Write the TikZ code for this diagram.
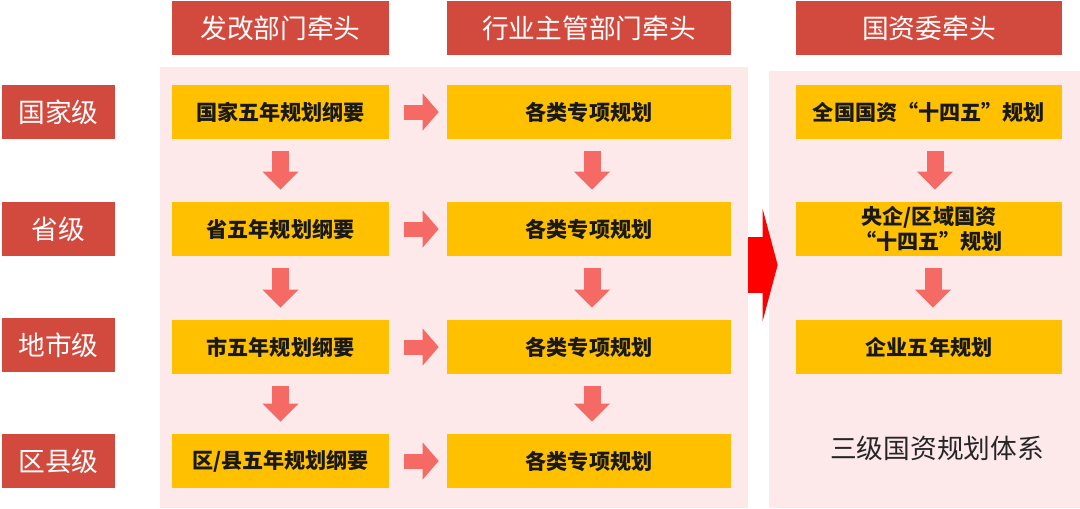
\documentclass[tikz,border=0pt]{standalone}
\usepackage{fontspec}
\newfontfamily\cjk{Noto Sans CJK SC}
\usetikzlibrary{arrows.meta}
\definecolor{headred}{RGB}{210,74,62}
\definecolor{planyellow}{RGB}{255,192,0}
\definecolor{bgpink}{RGB}{253,232,234}
\definecolor{arrowpink}{RGB}{246,106,102}
\definecolor{bigred}{RGB}{255,0,0}
\tikzset{
  head/.style={fill=headred, text=white, font=\cjk\fontsize{19}{23}\selectfont,
    minimum height=1.35cm, inner sep=0pt},
  plan/.style={fill=planyellow, text=black!90, font=\cjk\bfseries\fontsize{15}{18}\selectfont,
    minimum height=1.35cm, inner sep=0pt, align=center},
  bg/.style={fill=bgpink, inner sep=0pt},
  downarr/.style={draw=arrowpink, line width=0.425cm,
    -{Triangle[width=0.9cm,length=0.45cm,line width=0pt]}, shorten <=0.3cm, shorten >=0.3cm},
  rightarr/.style={draw=arrowpink, line width=0.375cm,
    -{Triangle[width=0.925cm,length=0.4cm,line width=0pt]}, shorten <=0.375cm, shorten >=0.2cm},
  bigarr/.style={draw=bigred, line width=1.4cm,
    -{Triangle[width=2.8cm,length=0.375cm,line width=0pt]}, shorten >=-0.225cm}
}

\begin{document}
\begin{tikzpicture}[x=0.025cm,y=-0.025cm]
\useasboundingbox (0,0) rectangle (1080,508);
\node[bg, minimum width=14.7cm, minimum height=11.025cm] (bg1) at (454,287.5) {};
\node[bg, minimum width=7.775cm, minimum height=10.925cm] (bg2) at (924.5,289.5) {};

\node[head, minimum width=5.425cm] (h1) at (280.5,28) {发改部门牵头};
\node[head, minimum width=7.1cm] (h2) at (589,28) {行业主管部门牵头};
\node[head, minimum width=6.65cm] (h3) at (929,28) {国资委牵头};

\node[head, minimum width=2.825cm] (l1) at (58.5,112) {国家级};
\node[head, minimum width=2.825cm] (l2) at (58.5,229) {省级};
\node[head, minimum width=2.825cm] (l3) at (58.5,345) {地市级};
\node[head, minimum width=2.825cm] (l4) at (58.5,461) {区县级};

\node[plan, minimum width=5.425cm] (a1) at (280.5,112) {国家五年规划纲要};
\node[plan, minimum width=5.425cm] (a2) at (280.5,229) {省五年规划纲要};
\node[plan, minimum width=5.425cm] (a3) at (280.5,347) {市五年规划纲要};
\node[plan, minimum width=5.425cm] (a4) at (280.5,461) {区/县五年规划纲要};

\node[plan, minimum width=7.1cm] (b1) at (589,112) {各类专项规划};
\node[plan, minimum width=7.1cm] (b2) at (589,229) {各类专项规划};
\node[plan, minimum width=7.1cm] (b3) at (589,347) {各类专项规划};
\node[plan, minimum width=7.1cm] (b4) at (589,461) {各类专项规划};

\node[plan, minimum width=6.65cm] (c1) at (929,112) {全国国资“十四五”规划};
\node[plan, minimum width=6.65cm] (c2) at (929,229) {央企/区域国资\\“十四五”规划};
\node[plan, minimum width=6.65cm] (c3) at (929,347) {企业五年规划};

\node[text=black!85, font=\cjk\fontsize{19}{23}\selectfont] (sys) at (937,448) {三级国资规划体系};

\draw[downarr] (a1.south) -- (a2.north);
\draw[downarr] (a2.south) -- (a3.north);
\draw[downarr] (a3.south) -- (a4.north);
\draw[downarr] ([xshift=0.075cm]b1.south) -- ([xshift=0.075cm]b2.north);
\draw[downarr] ([xshift=0.075cm]b2.south) -- ([xshift=0.075cm]b3.north);
\draw[downarr] ([xshift=0.075cm]b3.south) -- ([xshift=0.075cm]b4.north);
\draw[downarr] ([xshift=0.15cm]c1.south) -- ([xshift=0.15cm]c2.north);
\draw[downarr] ([xshift=0.1cm]c2.south) -- ([xshift=0.1cm]c3.north);

\draw[rightarr] (a1.east) -- (b1.west);
\draw[rightarr] (a2.east) -- (b2.west);
\draw[rightarr] (a3.east) -- (b3.west);
\draw[rightarr] (a4.east) -- (b4.west);

\draw[bigarr] (bg1.east |- 0,265) -- (bg2.west |- 0,265);
\end{tikzpicture}
\end{document}
